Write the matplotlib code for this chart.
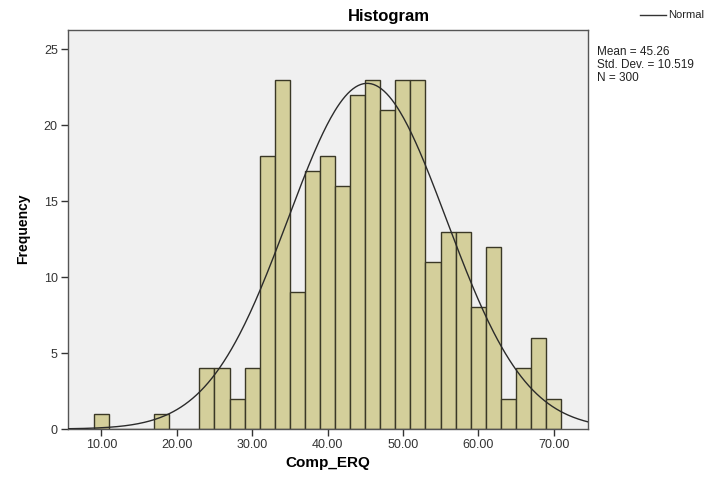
import numpy as np
import matplotlib
matplotlib.use('Agg')
import matplotlib.pyplot as plt

plt.rcParams['font.family'] = ['Liberation Sans', 'DejaVu Sans']

# histogram of Comp_ERQ, bin width 2 starting at 9
bin_start = 9
bin_width = 2
counts = [1, 0, 0, 0, 1, 0, 0, 4, 4, 2, 4, 18, 23, 9, 17, 18, 16, 22, 23, 21,
          23, 23, 11, 13, 13, 8, 12, 2, 4, 6, 2]
mean = 45.26
std_dev = 10.519
n = 300
xticks = [10, 20, 30, 40, 50, 60, 70]
yticks = [0, 5, 10, 15, 20, 25]

edges = bin_start + bin_width * np.arange(len(counts))

fig = plt.figure(figsize=(7.14, 4.8), dpi=100)
ax = fig.add_axes([67.5 / 714, 1 - 429 / 480, (587.5 - 67.5) / 714, (429 - 29.5) / 480])
ax.set_facecolor('#f0f0f0')

ax.bar(edges, counts, width=bin_width, align='edge', color='#d4cf9b',
       edgecolor='#3a3826', linewidth=1.0, zorder=2)

xs = np.linspace(5.5, 74.5, 400)
ys = n * bin_width * np.exp(-0.5 * ((xs - mean) / std_dev) ** 2) / (std_dev * np.sqrt(2 * np.pi))
ax.plot(xs, ys, color='#2b2b2b', linewidth=1.0, zorder=3)

ax.set_xlim(5.5, 74.5)
ax.set_ylim(0, 26.3)
ax.set_xticks(xticks)
ax.set_xticklabels(['%.2f' % t for t in xticks])
ax.set_yticks(yticks)
ax.tick_params(axis='both', direction='out', length=5, width=1, color='#333333',
               labelsize=9, labelcolor='#333333', pad=2)
for s in ax.spines.values():
    s.set_color('#555555')
    s.set_linewidth(1)

ax.set_xlabel('Comp_ERQ', fontsize=11, fontweight='bold', labelpad=4)
ax.set_ylabel('Frequency', fontsize=10, fontweight='bold', labelpad=10)

fig.text(389 / 714, 1 - 17 / 480, 'Histogram', ha='center', va='center',
         fontsize=12, fontweight='bold')

# legend entry and statistics box at the right
fig.add_artist(plt.Line2D([640 / 714, 666 / 714], [1 - 14.7 / 480, 1 - 14.7 / 480],
                          color='#333333', linewidth=1))
fig.text(668 / 714, 1 - 14.7 / 480, 'Normal', ha='left', va='center', fontsize=8, color='#222222')
fig.text(597 / 714, 1 - 46 / 480,
         'Mean = %.2f\nStd. Dev. = %.3f\nN = %d' % (mean, std_dev, n),
         ha='left', va='top', fontsize=8.5, color='#222222', linespacing=1.1)

plt.savefig('out.png', dpi=100)
